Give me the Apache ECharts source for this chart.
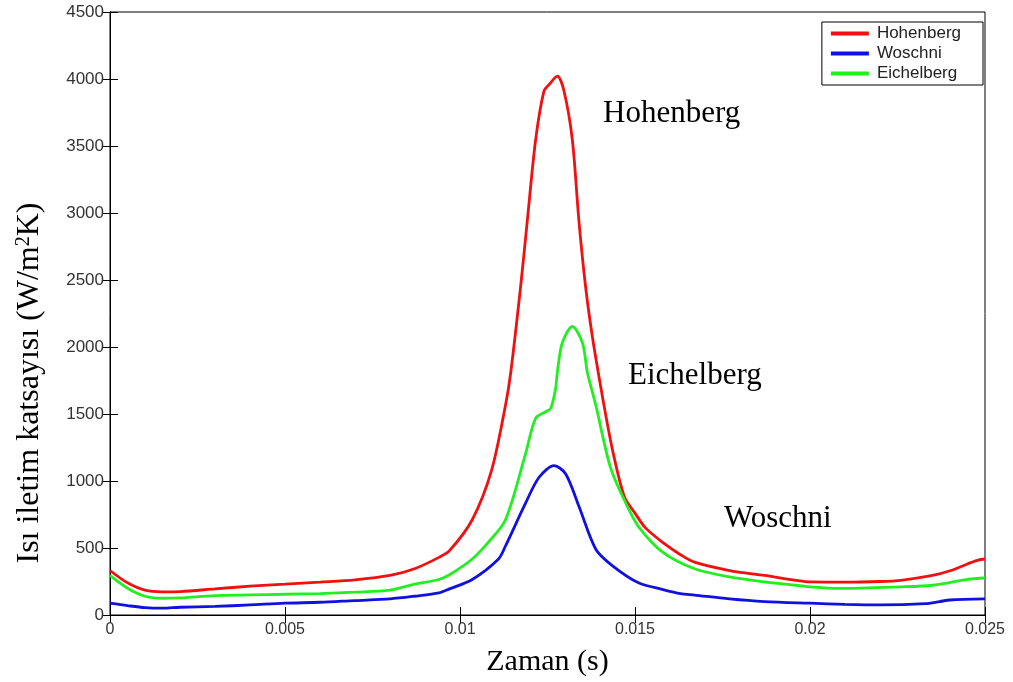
<!DOCTYPE html>
<html>
<head>
<meta charset="utf-8">
<script src="https://cdn.jsdelivr.net/npm/echarts@6/dist/echarts.min.js"></script>
<style>
  html, body { margin: 0; padding: 0; background: #fff; }
  #chart { width: 1013px; height: 682px; }
</style>
</head>
<body>
<div id="chart"></div>
<script>
// zaman (s) ve isi iletim katsayisi degerleri
var hohenberg = [
  [0, 332], [0.0005, 240], [0.001, 185], [0.0015, 173], [0.002, 175], [0.003, 195],
  [0.004, 215], [0.005, 230], [0.006, 245], [0.007, 262], [0.008, 295], [0.0087, 345],
  [0.0094, 430], [0.0097, 480], [0.01035, 711], [0.0109, 1077], [0.0113, 1566],
  [0.01145, 1810], [0.01173, 2446], [0.01192, 2934], [0.01216, 3545], [0.0124, 3912],
  [0.01255, 3960], [0.01278, 4021], [0.01297, 3912], [0.01321, 3545], [0.0134, 2934],
  [0.01359, 2446], [0.01378, 2080], [0.01397, 1780], [0.0142, 1440], [0.0144, 1180],
  [0.0147, 880], [0.015, 760], [0.0153, 650], [0.0158, 540], [0.0163, 450], [0.0167, 394],
  [0.0177, 332], [0.0187, 295], [0.0196, 259], [0.02, 247], [0.021, 245], [0.022, 250],
  [0.0226, 259], [0.0235, 295], [0.024, 330], [0.0245, 381], [0.0248, 410], [0.025, 418]
];
var woschni = [
  [0, 88], [0.0005, 70], [0.001, 55], [0.0015, 51], [0.002, 58], [0.003, 64],
  [0.004, 75], [0.005, 88], [0.006, 95], [0.007, 108], [0.008, 120], [0.0087, 140],
  [0.0094, 165], [0.0097, 195], [0.01035, 265], [0.0111, 418], [0.0113, 515],
  [0.01187, 833], [0.01226, 1028], [0.01269, 1114], [0.01302, 1053], [0.0134, 810],
  [0.01388, 491], [0.01435, 369], [0.0151, 240], [0.0158, 190], [0.0163, 160],
  [0.0167, 149], [0.0177, 120], [0.0187, 100], [0.02, 88], [0.021, 80], [0.022, 76],
  [0.0233, 85], [0.0237, 100], [0.024, 112], [0.025, 120]
];
var eichelberg = [
  [0, 296], [0.0005, 200], [0.001, 140], [0.0015, 125], [0.002, 128], [0.003, 145],
  [0.004, 150], [0.005, 155], [0.006, 160], [0.007, 170], [0.008, 185], [0.0087, 230],
  [0.0094, 265], [0.0097, 300], [0.01035, 418], [0.0108, 540], [0.0113, 711],
  [0.01187, 1200], [0.01216, 1468], [0.01245, 1517], [0.01259, 1541], [0.01273, 1688],
  [0.01278, 1810], [0.01292, 2030], [0.01321, 2153], [0.0135, 2030], [0.01364, 1810],
  [0.01388, 1566], [0.0143, 1100], [0.01474, 833], [0.0151, 660], [0.0158, 467],
  [0.0167, 345], [0.0177, 284], [0.0187, 247], [0.0196, 222], [0.02, 210], [0.0208, 198],
  [0.0226, 210], [0.0235, 222], [0.0245, 266], [0.025, 276]
];
var xTicks = [0, 0.005, 0.01, 0.015, 0.02, 0.025];
var yTicks = [0, 500, 1000, 1500, 2000, 2500, 3000, 3500, 4000, 4500];

var myChart = echarts.init(document.getElementById('chart'));

var tickLabel = { color: '#333', fontFamily: 'Liberation Sans, Arial', fontSize: 17 };
var serif = 'Liberation Serif, Times New Roman, serif';

function lineSeries(name, data, color) {
  return {
    name: name,
    type: 'line',
    data: data,
    symbol: 'none',
    smooth: 0.3,
    lineStyle: { color: color, width: 2.8 },
    itemStyle: { color: color },
    z: 3
  };
}

var option = {
  animation: false,
  backgroundColor: '#fff',
  grid: { left: 110, right: 28, top: 12, bottom: 53, show: true, borderColor: '#000', borderWidth: 1 },
  legend: {
    orient: 'vertical',
    right: 30,
    top: 22,
    padding: [3, 22, 3, 9],
    itemGap: 3,
    itemWidth: 38,
    itemHeight: 4,
    icon: 'rect',
    backgroundColor: '#fff',
    borderColor: '#000',
    borderWidth: 1,
    borderRadius: 0,
    textStyle: { color: '#222', fontFamily: 'Liberation Sans, Arial', fontSize: 17, padding: [0, 0, 0, 3] },
    data: ['Hohenberg', 'Woschni', 'Eichelberg']
  },
  xAxis: [{
    type: 'value',
    min: 0,
    max: 0.025,
    interval: 0.005,
    name: 'Zaman (s)',
    nameLocation: 'middle',
    nameGap: 32,
    nameTextStyle: { color: '#000', fontFamily: serif, fontSize: 30 },
    axisLine: { show: true, lineStyle: { color: '#000', width: 1 } },
    axisTick: { show: true, inside: true, length: 8, lineStyle: { color: '#000' } },
    axisLabel: Object.assign({ margin: 7, formatter: function (v) {
      var i = xTicks.findIndex(function (t) { return Math.abs(t - v) < 1e-9; });
      return i >= 0 ? String(xTicks[i]) : '';
    } }, tickLabel, { fontSize: 16 }),
    splitLine: { show: false }
  }, {
    type: 'value',
    position: 'top',
    min: 0,
    max: 0.025,
    interval: 0.005,
    axisLine: { show: true, lineStyle: { color: '#000' } },
    axisTick: { show: true, inside: true, length: 8, lineStyle: { color: '#000' } },
    axisLabel: { show: false },
    splitLine: { show: false }
  }],
  yAxis: [{
    type: 'value',
    min: 0,
    max: 4500,
    interval: 500,
    axisLine: { show: true, lineStyle: { color: '#000', width: 1 } },
    axisTick: { show: true, inside: true, length: 8, lineStyle: { color: '#000' } },
    axisLabel: Object.assign({ margin: 6, formatter: function (v) {
      return yTicks.indexOf(v) >= 0 ? String(v) : '';
    } }, tickLabel),
    splitLine: { show: false }
  }, {
    type: 'value',
    position: 'right',
    min: 0,
    max: 4500,
    interval: 500,
    axisLine: { show: true, lineStyle: { color: '#000' } },
    axisTick: { show: true, inside: true, length: 8, lineStyle: { color: '#000' } },
    axisLabel: { show: false },
    splitLine: { show: false }
  }],
  graphic: [
    {
      type: 'text', x: 30, y: 383, rotation: Math.PI / 2,
      style: {
        text: '{a|Isı iletim katsayısı (W/m}{s|2}{a|K)}',
        align: 'center', verticalAlign: 'middle',
        rich: {
          a: { fontFamily: serif, fontSize: 32, fill: '#000' },
          s: { fontFamily: serif, fontSize: 20, fill: '#000', verticalAlign: 'top', padding: [0, 0, 12, 0] }
        }
      }
    },
    { type: 'text', left: 603, top: 98, style: { text: 'Hohenberg', fontFamily: serif, fontSize: 31, fill: '#000' } },
    { type: 'text', left: 628, top: 360, style: { text: 'Eichelberg', fontFamily: serif, fontSize: 31, fill: '#000' } },
    { type: 'text', left: 724, top: 503, style: { text: 'Woschni', fontFamily: serif, fontSize: 31, fill: '#000' } }
  ],
  series: [
    lineSeries('Hohenberg', hohenberg, '#f01010'),
    lineSeries('Woschni', woschni, '#1010e0'),
    lineSeries('Eichelberg', eichelberg, '#22ee22')
  ]
};
option && myChart.setOption(option);
</script>
</body>
</html>
